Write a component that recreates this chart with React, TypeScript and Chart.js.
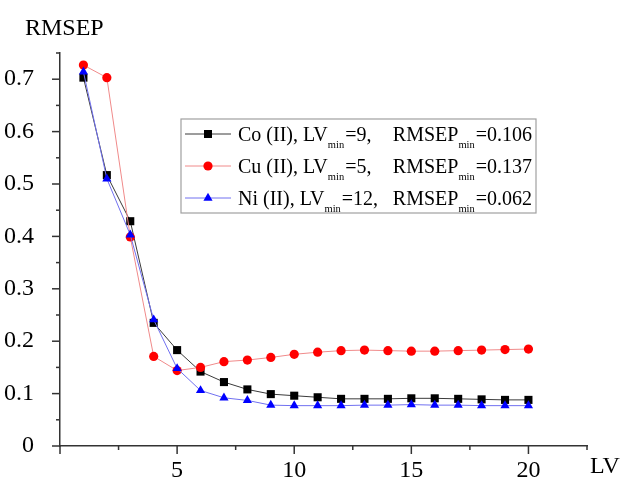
import React, { useEffect, useRef } from "react";
import { Chart, registerables } from "chart.js";

Chart.register(...registerables);

const lvValues = [1, 2, 3, 4, 5, 6, 7, 8, 9, 10, 11, 12, 13, 14, 15, 16, 17, 18, 19, 20];
const coValues = [0.703, 0.517, 0.429, 0.235, 0.183, 0.142, 0.122, 0.108, 0.099, 0.096, 0.093, 0.090, 0.090, 0.090, 0.091, 0.091, 0.090, 0.089, 0.088, 0.088];
const cuValues = [0.727, 0.703, 0.399, 0.171, 0.144, 0.150, 0.161, 0.164, 0.169, 0.175, 0.179, 0.182, 0.183, 0.182, 0.181, 0.181, 0.182, 0.183, 0.184, 0.185];
const niValues = [0.714, 0.510, 0.403, 0.241, 0.148, 0.106, 0.092, 0.087, 0.078, 0.077, 0.077, 0.077, 0.078, 0.078, 0.079, 0.078, 0.078, 0.077, 0.077, 0.077];

const seriesNames = ["Co (II),", "Cu (II),", "Ni (II),"];
const lvMinTexts = ["=9,", "=5,", "=12,"];
const rmsepMinTexts = ["=0.106", "=0.137", "=0.062"];
const lineColors = ["#3a3a3a", "#f08a8a", "#7070f0"];
const markerColors = ["#000000", "#ff0000", "#0000ff"];
const markerShapes = ["rect", "circle", "triangle"];

const FONT = '"Liberation Serif", "Times New Roman", serif';

function drawMarker(ctx: CanvasRenderingContext2D, shape: string, x: number, y: number, color: string) {
  ctx.save();
  ctx.fillStyle = color;
  ctx.beginPath();
  if (shape === "rect") {
    ctx.rect(x - 4, y - 4, 8, 8);
  } else if (shape === "circle") {
    ctx.arc(x, y, 4.6, 0, Math.PI * 2);
  } else {
    const r = 5.3;
    ctx.moveTo(x, y - r);
    ctx.lineTo(x + r * 0.866, y + r * 0.5);
    ctx.lineTo(x - r * 0.866, y + r * 0.5);
    ctx.closePath();
  }
  ctx.fill();
  ctx.restore();
}

const decorPlugin = {
  id: "decor",
  afterDraw(chart: any) {
    const ctx: CanvasRenderingContext2D = chart.ctx;
    const xs = chart.scales.x;
    const ys = chart.scales.y;
    const area = chart.chartArea;
    ctx.save();
    // ticks
    ctx.strokeStyle = "#333";
    ctx.lineWidth = 1.5;
    for (let i = 0; i <= 9; i++) {
      const v = i * 2.5;
      const px = xs.getPixelForValue(v);
      const len = i % 2 === 0 ? 8 : 4;
      ctx.beginPath();
      ctx.moveTo(px, area.bottom);
      ctx.lineTo(px, area.bottom + len);
      ctx.stroke();
    }
    for (let i = 0; i <= 15; i++) {
      const v = i * 0.05;
      const py = ys.getPixelForValue(v);
      const len = i % 2 === 0 ? 8 : 4;
      ctx.beginPath();
      ctx.moveTo(area.left, py);
      ctx.lineTo(area.left - len, py);
      ctx.stroke();
    }
    // axis titles
    ctx.fillStyle = "#000";
    ctx.font = `24px ${FONT}`;
    ctx.textBaseline = "middle";
    ctx.textAlign = "left";
    ctx.fillText("RMSEP", 25, 29);
    ctx.fillText("LV", 590, 467);

    // legend
    const bx = 181, by = 119, bw = 355, bh = 94;
    ctx.fillStyle = "#fff";
    ctx.fillRect(bx, by, bw, bh);
    ctx.strokeStyle = "#a0a0a0";
    ctx.lineWidth = 1.2;
    ctx.strokeRect(bx, by, bw, bh);
    const rowY = [134, 166, 198];
    const big = 20, small = 10.5;
    const rightEdge = 532;
    for (let r = 0; r < 3; r++) {
      const cy = rowY[r];
      ctx.strokeStyle = lineColors[r];
      ctx.lineWidth = 1;
      ctx.beginPath();
      ctx.moveTo(185, cy);
      ctx.lineTo(231, cy);
      ctx.stroke();
      drawMarker(ctx, markerShapes[r], 208, cy, markerColors[r]);
      const base = cy + 7;
      ctx.fillStyle = "#000";
      ctx.textBaseline = "alphabetic";
      ctx.textAlign = "left";
      // left part
      let x = 238;
      ctx.font = `${big}px ${FONT}`;
      const t1 = seriesNames[r] + " LV";
      ctx.fillText(t1, x, base);
      x += ctx.measureText(t1).width;
      ctx.font = `${small}px ${FONT}`;
      ctx.fillText("min", x, base + 7);
      x += ctx.measureText("min").width + 1;
      ctx.font = `${big}px ${FONT}`;
      ctx.fillText(lvMinTexts[r], x, base);
      // right part, right-aligned
      ctx.font = `${big}px ${FONT}`;
      const wVal = ctx.measureText(rmsepMinTexts[r]).width;
      const wR = ctx.measureText("RMSEP").width;
      ctx.font = `${small}px ${FONT}`;
      const wMin = ctx.measureText("min").width;
      const xVal = rightEdge - wVal;
      const xMin = xVal - wMin - 1;
      const xR = xMin - wR;
      ctx.fillText("min", xMin, base + 7);
      ctx.font = `${big}px ${FONT}`;
      ctx.fillText("RMSEP", xR, base);
      ctx.fillText(rmsepMinTexts[r], xVal, base);
    }
    ctx.restore();
  },
};

export default function App() {
  const ref = useRef<HTMLCanvasElement | null>(null);
  useEffect(() => {
    document.body.style.margin = "0";
    const canvas = ref.current;
    if (!canvas) return;
    const mk = (vals: number[], i: number, order: number) => ({
      label: seriesNames[i],
      data: lvValues.map((x, k) => ({ x, y: vals[k] })),
      borderColor: lineColors[i],
      borderWidth: 1,
      backgroundColor: markerColors[i],
      pointBackgroundColor: markerColors[i],
      pointBorderColor: markerColors[i],
      pointBorderWidth: 0,
      pointStyle: markerShapes[i],
      pointRadius: i === 0 ? 5.7 : i === 1 ? 4.6 : 5.3,
      tension: 0,
      order,
    });
    const chart = new Chart(canvas, {
      type: "line",
      data: {
        datasets: [mk(coValues, 0, 2), mk(cuValues, 1, 1), mk(niValues, 2, 0)] as any,
      },
      options: {
        animation: false,
        responsive: false,
        events: [],
        layout: { padding: { top: 53, right: 35, left: 0, bottom: 0 } },
        plugins: { legend: { display: false }, tooltip: { enabled: false } },
        scales: {
          x: {
            type: "linear",
            min: 0,
            max: 22.5,
            afterFit: (s: any) => { s.height = 39; },
            border: { display: true, color: "#333", width: 1.5 },
            grid: { display: true, drawOnChartArea: false, drawTicks: true, tickLength: 8, color: "rgba(0,0,0,0)" },
            ticks: {
              stepSize: 2.5,
              autoSkip: false,
              maxRotation: 0,
              padding: 2,
              color: "#000",
              font: { family: FONT, size: 24 },
              callback: (v: any) => {
                const n = Math.round(Number(v) * 10);
                return n !== 0 && n % 50 === 0 ? String(n / 10) : null;
              },
            },
          },
          y: {
            type: "linear",
            min: 0,
            max: 0.75,
            afterFit: (s: any) => { s.width = 60; },
            border: { display: true, color: "#333", width: 1.5 },
            grid: { display: true, drawOnChartArea: false, drawTicks: true, tickLength: 8, color: "rgba(0,0,0,0)" },
            ticks: {
              stepSize: 0.05,
              autoSkip: false,
              padding: 18,
              color: "#000",
              font: { family: FONT, size: 24 },
              callback: (v: any) => {
                const n = Math.round(Number(v) * 100);
                return n % 10 === 0 ? (n === 0 ? "0" : String(n / 100)) : null;
              },
            },
          },
        },
      },
      plugins: [decorPlugin],
    });
    return () => chart.destroy();
  }, []);
  return <canvas ref={ref} width={622} height={485} style={{ display: "block" }} />;
}
